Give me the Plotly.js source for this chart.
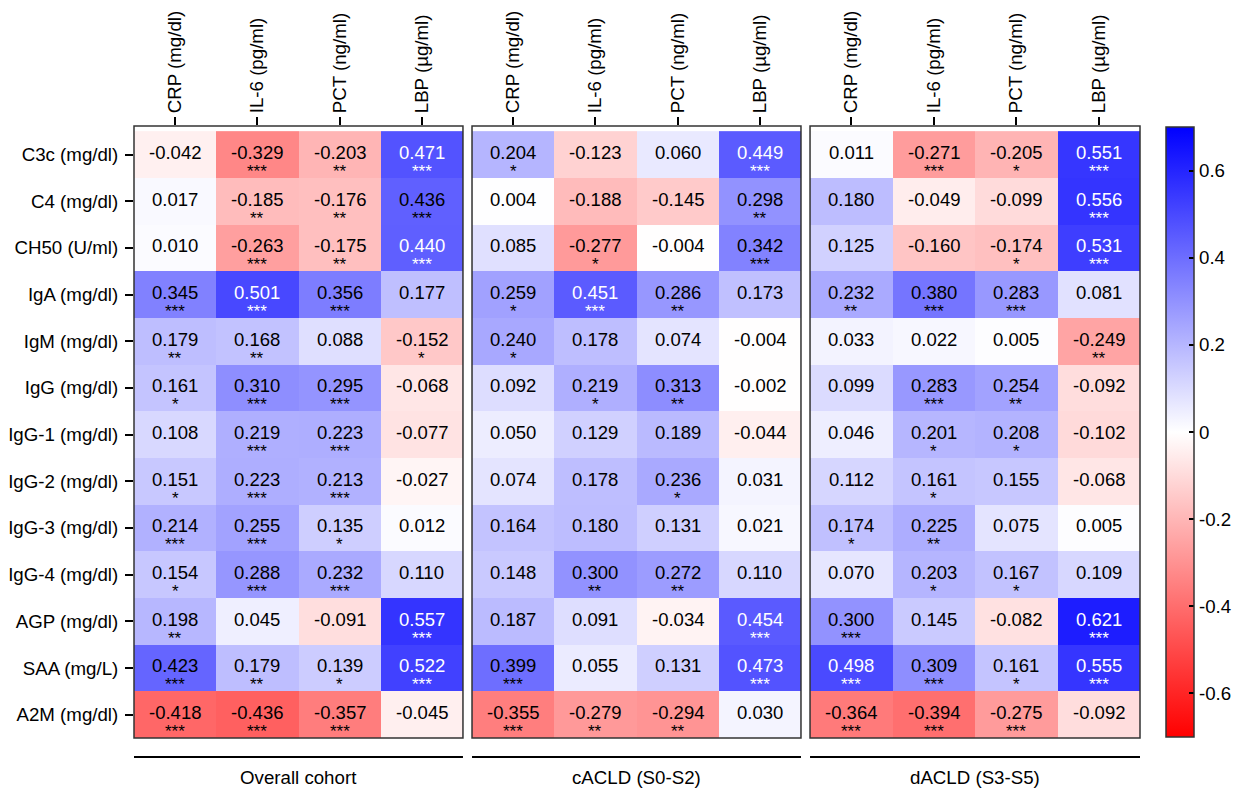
<!DOCTYPE html>
<html>
<head>
<meta charset="utf-8">
<script src="https://cdn.plot.ly/plotly-3.0.1.min.js"></script>
<style>html,body{margin:0;padding:0;background:#fff;}#chart{width:1244px;height:788px;}</style>
</head>
<body>
<div id="chart"></div>
<script>
const rowLabels = ['C3c (mg/dl)', 'C4 (mg/dl)', 'CH50 (U/ml)', 'IgA (mg/dl)', 'IgM (mg/dl)', 'IgG (mg/dl)',
  'IgG-1 (mg/dl)', 'IgG-2 (mg/dl)', 'IgG-3 (mg/dl)', 'IgG-4 (mg/dl)', 'AGP (mg/dl)', 'SAA (mg/L)', 'A2M (mg/dl)'];
const colLabels = ['CRP (mg/dl)', 'IL-6 (pg/ml)', 'PCT (ng/ml)', 'LBP (µg/ml)'];
const groupLabels = ['Overall cohort', 'cACLD (S0-S2)', 'dACLD (S3-S5)'];

const overallR = [
  [-0.042, -0.329, -0.203, 0.471],
  [0.017, -0.185, -0.176, 0.436],
  [0.010, -0.263, -0.175, 0.440],
  [0.345, 0.501, 0.356, 0.177],
  [0.179, 0.168, 0.088, -0.152],
  [0.161, 0.310, 0.295, -0.068],
  [0.108, 0.219, 0.223, -0.077],
  [0.151, 0.223, 0.213, -0.027],
  [0.214, 0.255, 0.135, 0.012],
  [0.154, 0.288, 0.232, 0.110],
  [0.198, 0.045, -0.091, 0.557],
  [0.423, 0.179, 0.139, 0.522],
  [-0.418, -0.436, -0.357, -0.045]
];
const overallSig = [
  ['', '***', '**', '***'],
  ['', '**', '**', '***'],
  ['', '***', '**', '***'],
  ['***', '***', '***', ''],
  ['**', '**', '', '*'],
  ['*', '***', '***', ''],
  ['', '***', '***', ''],
  ['*', '***', '***', ''],
  ['***', '***', '*', ''],
  ['*', '***', '***', ''],
  ['**', '', '', '***'],
  ['***', '**', '*', '***'],
  ['***', '***', '***', '']
];
const cacldR = [
  [0.204, -0.123, 0.060, 0.449],
  [0.004, -0.188, -0.145, 0.298],
  [0.085, -0.277, -0.004, 0.342],
  [0.259, 0.451, 0.286, 0.173],
  [0.240, 0.178, 0.074, -0.004],
  [0.092, 0.219, 0.313, -0.002],
  [0.050, 0.129, 0.189, -0.044],
  [0.074, 0.178, 0.236, 0.031],
  [0.164, 0.180, 0.131, 0.021],
  [0.148, 0.300, 0.272, 0.110],
  [0.187, 0.091, -0.034, 0.454],
  [0.399, 0.055, 0.131, 0.473],
  [-0.355, -0.279, -0.294, 0.030]
];
const cacldSig = [
  ['*', '', '', '***'],
  ['', '', '', '**'],
  ['', '*', '', '***'],
  ['*', '***', '**', ''],
  ['*', '', '', ''],
  ['', '*', '**', ''],
  ['', '', '', ''],
  ['', '', '*', ''],
  ['', '', '', ''],
  ['', '**', '**', ''],
  ['', '', '', '***'],
  ['***', '', '', '***'],
  ['***', '**', '**', '']
];
const dacldR = [
  [0.011, -0.271, -0.205, 0.551],
  [0.180, -0.049, -0.099, 0.556],
  [0.125, -0.160, -0.174, 0.531],
  [0.232, 0.380, 0.283, 0.081],
  [0.033, 0.022, 0.005, -0.249],
  [0.099, 0.283, 0.254, -0.092],
  [0.046, 0.201, 0.208, -0.102],
  [0.112, 0.161, 0.155, -0.068],
  [0.174, 0.225, 0.075, 0.005],
  [0.070, 0.203, 0.167, 0.109],
  [0.300, 0.145, -0.082, 0.621],
  [0.498, 0.309, 0.161, 0.555],
  [-0.364, -0.394, -0.275, -0.092]
];
const dacldSig = [
  ['', '***', '*', '***'],
  ['', '', '', '***'],
  ['', '', '*', '***'],
  ['**', '***', '***', ''],
  ['', '', '', '**'],
  ['', '***', '**', ''],
  ['', '*', '*', ''],
  ['', '*', '', ''],
  ['*', '**', '', ''],
  ['', '*', '*', ''],
  ['***', '', '', '***'],
  ['***', '***', '*', '***'],
  ['***', '***', '***', '']
];
const cbTickVals = [-0.6, -0.4, -0.2, 0, 0.2, 0.4, 0.6];
const cbTickText = ['-0.6', '-0.4', '-0.2', '0', '0.2', '0.4', '0.6'];

const FONT = 'Arial, "Liberation Sans", sans-serif';
const LBL = 18.7;
const panels = [
  {r: overallR, s: overallSig},
  {r: cacldR, s: cacldSig},
  {r: dacldR, s: dacldSig}
];
const domains = [[0, 0.327], [0.336, 0.663], [0.672, 1]];
const colorscale = [[0, 'rgb(255,0,0)'], [0.5, 'rgb(255,255,255)'], [1, 'rgb(0,0,255)']];

const data = [];
const annotations = [];
const shapes = [];
const layout = {
  width: 1244, height: 788,
  margin: {l: 134, r: 104, t: 126, b: 50, autoexpand: false},
  paper_bgcolor: '#fff', plot_bgcolor: '#fff',
  font: {family: FONT, size: LBL, color: '#000'},
  showlegend: false,
  yaxis: {
    type: 'category', autorange: 'reversed', anchor: 'x',
    ticks: 'outside', ticklen: 8, tickwidth: 2, tickcolor: '#000',
    tickfont: {size: LBL, family: FONT, color: '#000'},
    showgrid: false, zeroline: false, showline: false, ticklabelstandoff: 3
  }
};

panels.forEach((p, i) => {
  const xa = i === 0 ? 'x' : 'x' + (i + 1);
  const xkey = i === 0 ? 'xaxis' : 'xaxis' + (i + 1);
  data.push({
    type: 'heatmap', x: colLabels, y: rowLabels, z: p.r,
    xaxis: xa, yaxis: 'y',
    zmin: -0.7, zmax: 0.7, colorscale: colorscale,
    showscale: i === 0, hoverinfo: 'skip',
    colorbar: {
      x: 1.0258, xanchor: 'left', xpad: 0, y: 0.5, yanchor: 'middle', ypad: 0,
      len: 0.996, lenmode: 'fraction', thickness: 28,
      outlinewidth: 1.5, outlinecolor: '#333',
      tickmode: 'array', tickvals: cbTickVals, ticktext: cbTickText,
      ticks: 'inside', ticklen: 5, tickwidth: 2, tickcolor: '#000',
      tickfont: {size: LBL, family: FONT, color: '#000'},
      ticklabelpad: 4
    }
  });
  layout[xkey] = {
    domain: domains[i], anchor: 'y', side: 'top', type: 'category',
    tickangle: -90, ticks: 'outside', ticklen: 8, tickwidth: 2, tickcolor: '#000',
    tickfont: {size: LBL, family: FONT, color: '#000'},
    showgrid: false, zeroline: false, showline: false
  };
  shapes.push({
    type: 'rect', xref: xa + ' domain', yref: 'y domain',
    x0: 0, x1: 1, y0: 0, y1: 1, line: {color: '#333', width: 1.5}, layer: 'above'
  });
  shapes.push({
    type: 'line', xref: xa + ' domain', yref: 'paper',
    x0: 0, x1: 1, y0: -0.031, y1: -0.031, line: {color: '#000', width: 2}
  });
  annotations.push({
    xref: xa + ' domain', yref: 'paper', x: 0.5, y: -0.064,
    xanchor: 'center', yanchor: 'middle', showarrow: false,
    text: groupLabels[i], font: {size: LBL, family: FONT, color: '#000'}
  });
  rowLabels.forEach((rl, ri) => {
    colLabels.forEach((cl, ci) => {
      const v = p.r[ri][ci];
      const col = v > 0.438 ? '#fff' : '#000';
      annotations.push({
        xref: xa, yref: 'y', x: cl, y: rl, showarrow: false,
        text: v.toFixed(3), yshift: 2,
        font: {size: 18.5, family: FONT, color: col}
      });
      if (p.s[ri][ci]) {
        annotations.push({
          xref: xa, yref: 'y', x: cl, y: rl, showarrow: false,
          text: p.s[ri][ci], yshift: -17,
          font: {size: 17, family: FONT, color: col}
        });
      }
    });
  });
});
layout.annotations = annotations;
layout.shapes = shapes;

Plotly.newPlot('chart', data, layout, {displayModeBar: false, responsive: false});
</script>
</body>
</html>
